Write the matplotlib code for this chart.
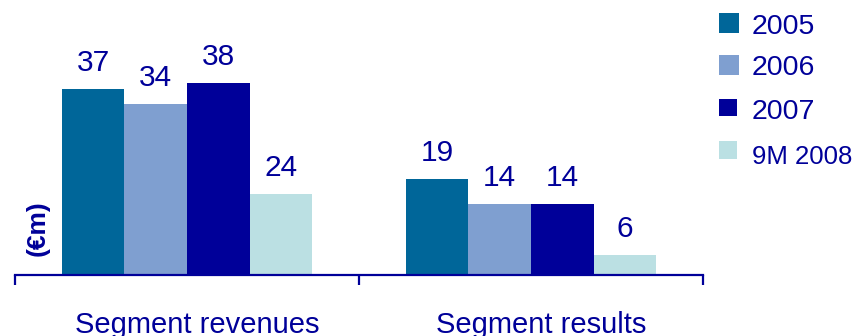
import matplotlib.pyplot as plt
from matplotlib.patches import Rectangle
import numpy as np

plt.rcParams['font.family'] = ['Liberation Sans', 'DejaVu Sans']

categories = ['Segment revenues', 'Segment results']
series = ['2005', '2006', '2007', '9M 2008']
# printed values
labels = [[37, 19], [34, 14], [38, 14], [24, 6]]
# bar heights as drawn (9M 2008 bars are drawn shorter than their labels)
heights = [[37, 19], [34, 14], [38, 14], [16, 4]]
colors = ['#006699', '#7f9fd0', '#000099', '#bbe0e3']
text_color = '#000099'

W, H = 861, 336
fig = plt.figure(figsize=(W / 100, H / 100), dpi=100)

# axes: x from 15px to 703px, baseline at y=275px, top at y=0
ax = fig.add_axes([15 / W, (H - 275) / H, (703 - 15) / W, 275 / H])
ax.set_xlim(-0.5, 1.5)
ax.set_ylim(0, 275 / 5.04)

x = np.arange(len(categories))
w = 0.182
for i, s in enumerate(series):
    xs = x + (i - 1.5) * w + 0.0
    bars = ax.bar(xs, heights[i], width=w, color=colors[i], linewidth=0)
    for b, lab in zip(bars, labels[i]):
        ax.annotate(str(lab), (b.get_x() + b.get_width() / 2, b.get_height()),
                    xytext=(0, 26), textcoords='offset pixels',
                    ha='center', va='center', fontsize=21.5, color=text_color)

for sp in ['top', 'left', 'right']:
    ax.spines[sp].set_visible(False)
ax.spines['bottom'].set_color(text_color)
ax.spines['bottom'].set_linewidth(1.6)
ax.set_yticks([])
ax.set_xticks([-0.5, 0.5, 1.5])
ax.set_xticklabels([])
ax.tick_params(axis='x', direction='out', length=7.5, width=1.6, color=text_color)
ax.patch.set_visible(False)

for xi, cat in zip(x, categories):
    ax.annotate(cat, (xi, 0), xytext=(10, -50), textcoords='offset pixels',
                ha='center', va='center', fontsize=21, color=text_color,
                annotation_clip=False)

fig.text(38 / W, 1 - 228 / H, '(€m)', rotation=90, ha='center', va='center',
         fontsize=19, fontweight='bold', color=text_color)

# legend
sq = [(13, 20, 20), (55, 20, 20), (99, 18, 17), (141, 18, 18)]
ty = [27, 68, 112, 157]
fs = [20.5, 20.5, 20.5, 18.5]
for (top, sw, sh), c, s, y, f in zip(sq, colors, series, ty, fs):
    fig.patches.append(Rectangle((719 / W, 1 - (top + sh) / H), sw / W, sh / H,
                                 transform=fig.transFigure, color=c, linewidth=0))
    fig.text(752 / W, 1 - y / H, s, ha='left', va='center', fontsize=f,
             color=text_color)

fig.savefig('out.png', dpi=100)
